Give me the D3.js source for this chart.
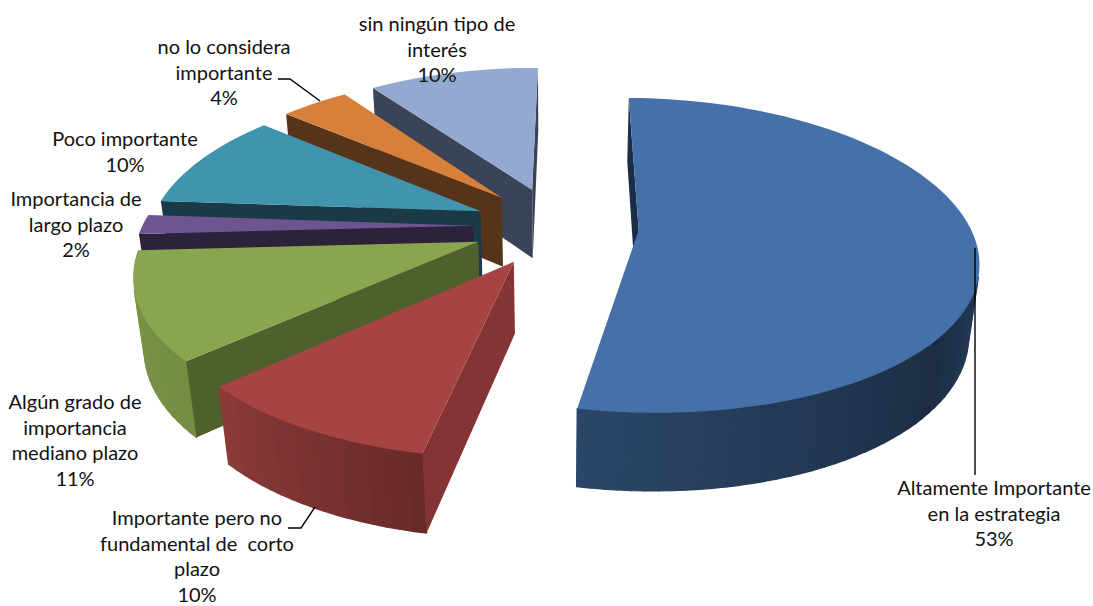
<!DOCTYPE html>
<html>
<head>
<meta charset="utf-8">
<script src="https://cdnjs.cloudflare.com/ajax/libs/d3/7.8.5/d3.min.js"></script>
<style>
    html, body { margin: 0; padding: 0; background: #fff; }
    svg { display: block; }
    text { font-family: Lato, "Open Sans", sans-serif; font-size: 20px; fill: #111; }
</style>
</head>
<body>
<div id="chart"></div>
<script>
const categories = [
    ["Altamente Importante", "en la estrategia"],
    ["Importante pero no", "fundamental de  corto", "plazo"],
    ["Algún grado de", "importancia", "mediano plazo"],
    ["Importancia de", "largo plazo"],
    ["Poco importante"],
    ["no lo considera", "importante"],
    ["sin ningún tipo de", "interés"]
];
const values = [53, 10, 11, 2, 10, 4, 10];

const topColours = ["#4571a8", "#a54442", "#89a54e", "#6f5590", "#4094ae", "#d7803c", "#93a9cf"];
const radialColours = ["#1b2d47", "#853435", "#50602c", "#2c2239", "#1a3a47", "#57331a", "#3a4358"];

// label anchors, one per slice: centre x, first baseline
const labelX = [994, 197, 75, 76, 125, 224, 437];
const labelY = [495, 525, 409, 206, 146, 54, 31];
const lineHeight = 25.5;

const width = 1093, height = 606;

// projection of the pie, fitted by eye to the picture
const cx = 556, cy = 226;
const radiusX = 331, radiusY = 152, perspectiveX = 0.175, perspectiveY = 0.16, dropPerspective = 0.025;
const explodeX = 0.25, explodeY = 0.26;
const depth = 72;
const firstAngle = 0.5 * Math.PI / 180;

// side shading against the angle round the pie, in degrees
const shade = d3.scaleLinear().domain([90, 130, 190, 227, 270]).range([0.62, 0.4, 0.62, 0.85, 0.92]);

const svg = d3.select("#chart").append("svg")
    .attr("width", width)
    .attr("height", height);

const slices = d3.pie().sort(null).value(d => d).startAngle(firstAngle).endAngle(firstAngle + 2 * Math.PI)(values);

const project = (X, Y, low) => {
    const drop = low ? dropPerspective : 0;
    return [
        cx + radiusX * X / (1 - perspectiveX * Y + drop),
        cy + (radiusY * Y + (low ? depth : 0)) / (1 - perspectiveY * Y + drop)
    ];
};

const line = d3.line();
const closed = pts => line(pts) + "Z";

const area = pts => d3.polygonArea(pts);

const drawSlice = (d, i) => {
    const mid = (d.startAngle + d.endAngle) / 2;
    const ox = explodeX * Math.sin(mid);
    const oy = -explodeY * Math.cos(mid);

    const rim = a => [ox + Math.sin(a), oy - Math.cos(a)];
    const g = svg.append("g").attr("class", "slice");

    const steps = Math.max(4, Math.round((d.endAngle - d.startAngle) / (Math.PI / 90)));
    const angles = d3.range(steps + 1).map(k => d.startAngle + (d.endAngle - d.startAngle) * k / steps);

    // outer wall, split up so it can be shaded and culled
    for (let k = 0; k < steps; k++) {
        const a0 = rim(angles[k]), a1 = rim(angles[k + 1]);
        const quad = [project(...a0, false), project(...a1, false), project(...a1, true), project(...a0, true)];
        if (area(quad) <= 0) continue;
        const deg = (angles[k] + angles[k + 1]) * 90 / Math.PI;
        const colour = d3.rgb(topColours[i]);
        const f = shade(deg);
        const fill = d3.rgb(colour.r * f, colour.g * f, colour.b * f).formatHex();
        g.append("path").attr("d", closed(quad)).attr("fill", fill).attr("stroke", fill).attr("stroke-width", 1.2);
    }

    // radial walls, only the ones that face the viewer
    const apexTop = project(ox, oy, false), apexLow = project(ox, oy, true);
    const wall = (a) => {
        const p = rim(a);
        return [apexTop, project(...p, false), project(...p, true), apexLow];
    };
    const startWall = wall(d.startAngle), endWall = wall(d.endAngle);
    if (area(startWall) > 0) {
        g.append("path").attr("d", closed(startWall)).attr("fill", radialColours[i]);
    }
    if (area(endWall) < 0) {
        g.append("path").attr("d", closed(endWall)).attr("fill", radialColours[i]);
    }

    // top surface
    const topPts = [apexTop].concat(angles.map(a => project(...rim(a), false)));
    g.append("path").attr("d", closed(topPts)).attr("fill", topColours[i]);
};

// back to front
d3.range(slices.length).reverse().forEach(i => drawSlice(slices[i], i));

// leader lines
const leaderLines = [
    [[975, 248], [975, 475]],
    [[288, 528], [301, 528], [315, 507]],
    [[278, 79], [290, 79], [320, 101]]
];
svg.selectAll(".leader")
    .data(leaderLines)
    .enter().append("path")
    .attr("class", "leader")
    .attr("d", d => line(d))
    .attr("fill", "none")
    .attr("stroke", "#000")
    .attr("stroke-width", 1.4);

// labels
categories.forEach((lines, i) => {
    const t = svg.append("text").attr("text-anchor", "middle");
    lines.concat(`${values[i]}%`).forEach((s, k) => {
        t.append("tspan")
            .attr("x", labelX[i])
            .attr("y", labelY[i] + k * lineHeight)
            .attr("xml:space", "preserve")
            .text(s);
    });
});
</script>
</body>
</html>
